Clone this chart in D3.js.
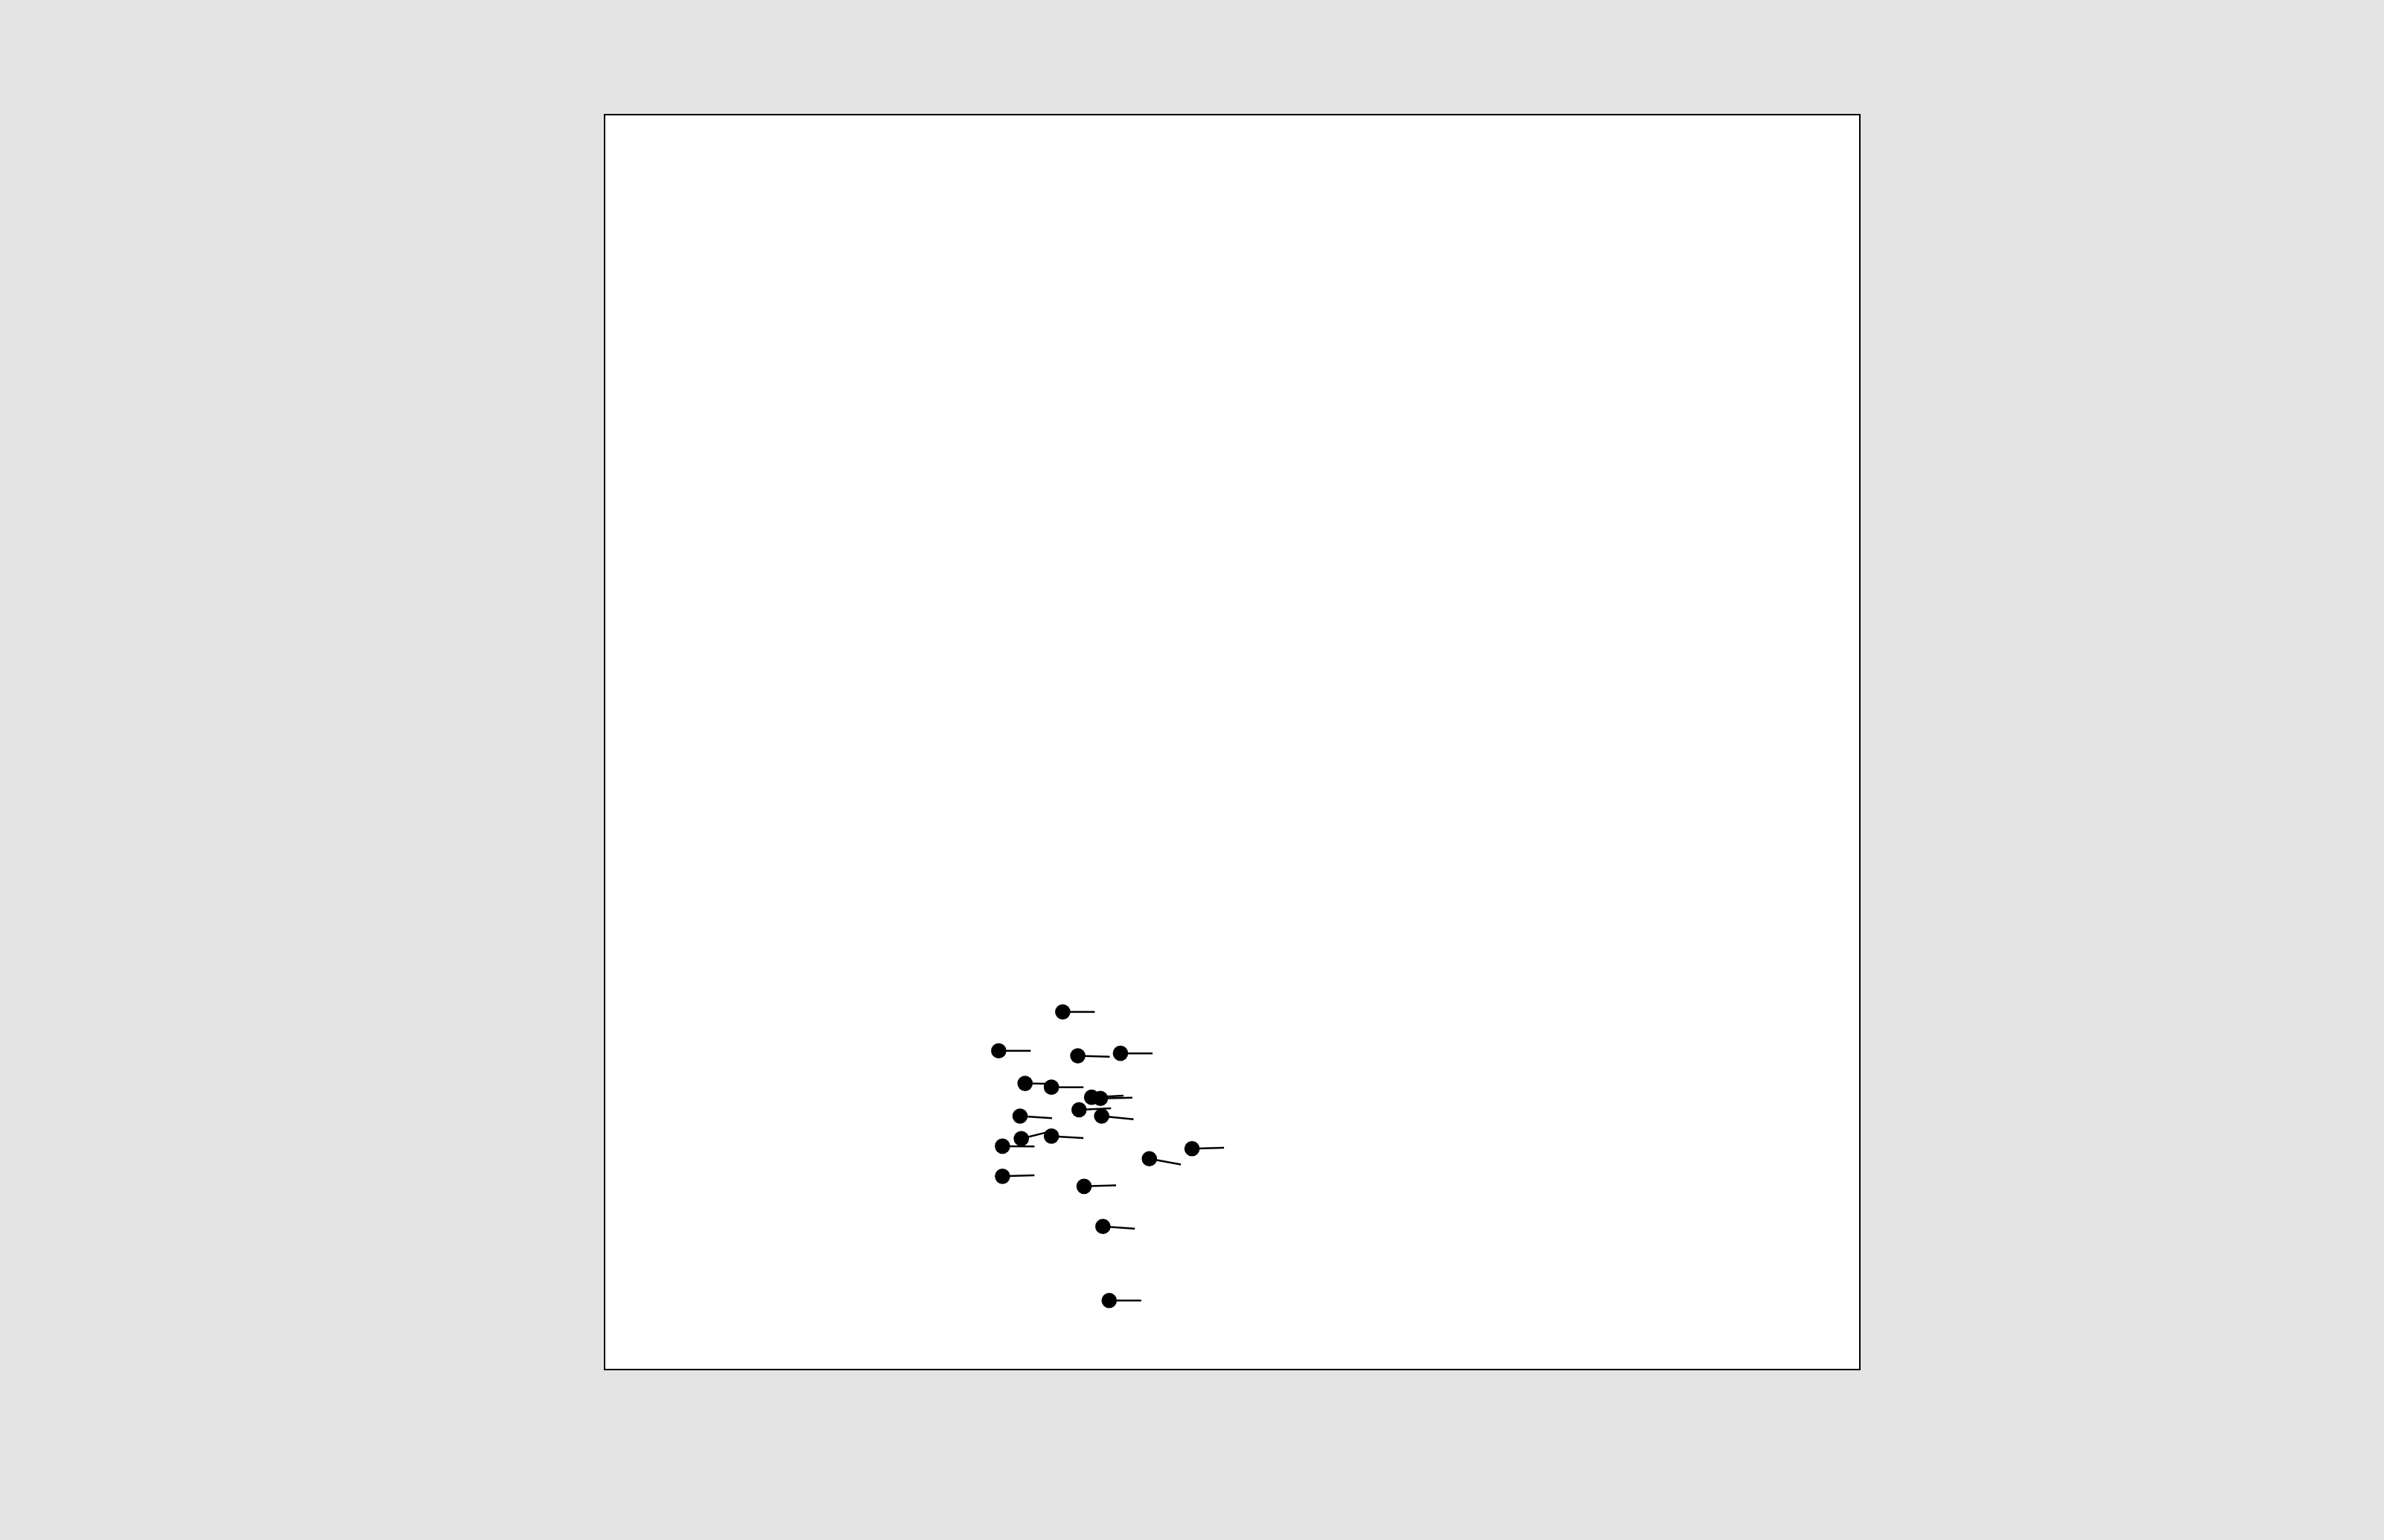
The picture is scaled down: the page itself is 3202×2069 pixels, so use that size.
<!DOCTYPE html>
<html>
<head>
<meta charset="utf-8">
<script src="https://cdn.jsdelivr.net/npm/d3@7"></script>
<style>
  html, body { margin: 0; padding: 0; background: #e4e4e4; }
  svg { display: block; }
</style>
</head>
<body>
<svg id="chart"></svg>
<script>
// positions (plot units 0..100), angle of the stick in degrees (clockwise)
var xs = [36.5, 31.4, 37.7, 41.1, 33.5, 35.6, 38.8, 39.5, 37.8, 39.6,
          33.1, 33.2, 35.6, 31.7, 43.4, 46.8, 31.7, 38.2, 39.7, 40.2];
var ys = [28.5, 25.4, 25.0, 25.2, 22.8, 22.5, 21.7, 21.6, 20.7, 20.2,
          20.2, 18.4, 18.6, 17.8, 16.8, 17.6, 15.4, 14.6, 11.4, 5.5];
var angles = [0, 0, 1.8, 0, 1, 0, -3, -1.5, -2.7, 5.8,
              3.6, -14, 3.6, 0.5, 10.5, -1.8, -1.8, -1.8, 4, 0];

var width = 3202, height = 2069,
    marginLeft = 812, marginTop = 154, size = 1686,
    stickLen = 43, r = 10.3;

var svg = d3.select("#chart")
  .attr("width", width)
  .attr("height", height);

var x = d3.scaleLinear().domain([0, 100]).range([marginLeft, marginLeft + size]);
var y = d3.scaleLinear().domain([0, 100]).range([marginTop + size, marginTop]);

svg.append("rect")
  .attr("x", x(0))
  .attr("y", y(100))
  .attr("width", x(100) - x(0))
  .attr("height", y(0) - y(100))
  .attr("fill", "#fff")
  .attr("stroke", "#000")
  .attr("stroke-width", 2);

var pts = xs.map((d, i) => ({x: d, y: ys[i], a: angles[i]}));

var g = svg.append("g");

g.selectAll("line")
  .data(pts)
  .enter().append("line")
  .attr("x1", d => x(d.x))
  .attr("y1", d => y(d.y))
  .attr("x2", d => x(d.x) + stickLen * Math.cos(d.a * Math.PI / 180))
  .attr("y2", d => y(d.y) + stickLen * Math.sin(d.a * Math.PI / 180))
  .attr("stroke", "#000")
  .attr("stroke-width", 2.5);

g.selectAll("circle")
  .data(pts)
  .enter().append("circle")
  .attr("cx", d => x(d.x))
  .attr("cy", d => y(d.y))
  .attr("r", r)
  .attr("fill", "#000");
</script>
</body>
</html>
